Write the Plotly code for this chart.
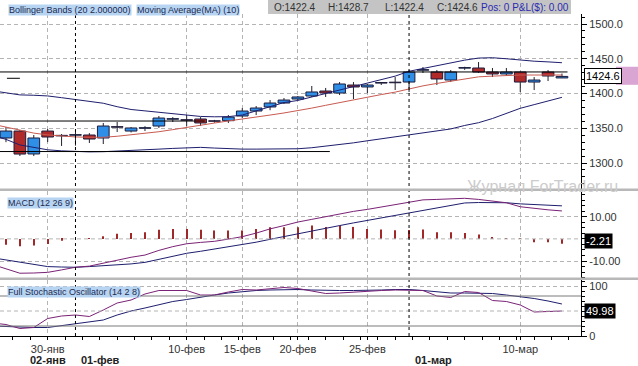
import plotly.graph_objects as go

# ---------------- data ----------------
bar_idx = list(range(41))
opens = [1336, 1346, 1313, 1346, 1339, 1340, 1340.3, 1336, 1352, 1346, 1350, 1353.2, 1363, 1362, 1363.3,
         1360.4, 1360.9, 1367.6, 1374.8, 1380.6, 1386.3, 1392.1, 1396.4, 1403.6, 1400.7, 1412.2, 1409.4,
         1415, 1416, 1416.5, 1433.5, 1430.9, 1419.4, 1436.5, 1436.7, 1430.9, 1428.1, 1430.9, 1416.5, 1430.9, 1422.4]
closes = [1346, 1312.9, 1336, 1337.4, 1339.5, 1340.5, 1334.5, 1353.2, 1351.5, 1350.4, 1350.5, 1364.7, 1363.5,
          1361.5, 1357.6, 1360, 1366, 1374.8, 1379.1, 1386.3, 1390.6, 1395, 1402.2, 1400.7, 1413.7, 1409.4,
          1412.2, 1415.5, 1415.5, 1430.9, 1434, 1420.9, 1430.9, 1437, 1430.9, 1428.1, 1430.9, 1416.5, 1419.4,
          1425.2, 1424.6]
highs = [1351.8, 1347.5, 1340.3, 1349, 1341.7, 1345, 1343, 1357.6, 1359, 1351.8, 1353, 1367.6, 1366, 1369,
         1366, 1362, 1369, 1379, 1382, 1390.6, 1393.5, 1396.4, 1410.8, 1408, 1416.5, 1416.5, 1413.7, 1416.5,
         1423.7, 1433.8, 1438.1, 1433.8, 1433.8, 1438.5, 1445.3, 1436.7, 1436.7, 1431.5, 1423.7, 1433.8, 1428.7]
lows = [1330, 1310.1, 1310, 1330.2, 1324.5, 1325, 1328.8, 1327.3, 1344.6, 1344, 1346, 1350.4, 1359, 1353,
        1353.2, 1358, 1357.6, 1364.7, 1369, 1376, 1385, 1390.6, 1395, 1395, 1397.8, 1392.1, 1400.7, 1412.2,
        1405, 1402.2, 1429.5, 1412.2, 1416.5, 1434, 1429.5, 1423.7, 1425.2, 1402.2, 1405, 1418, 1422.4]

ind_idx = list(range(-1, 41))
bb_upper = [1404, 1401, 1398, 1397.5, 1396.5, 1394, 1391.5, 1389, 1386, 1381, 1377, 1375, 1373, 1371, 1369,
            1367, 1366.5, 1366.7, 1369, 1375, 1381, 1387, 1390, 1395, 1400, 1405.5, 1411, 1415.5, 1420.5, 1425,
            1432, 1436, 1441, 1445, 1448, 1451, 1451.5, 1450, 1448, 1446.5, 1445.5, 1444.3]
bb_lower = [1340, 1334, 1326, 1322, 1319, 1317.5, 1316.3, 1316, 1316.3, 1317, 1318, 1319, 1320, 1321, 1322,
            1322.5, 1321.5, 1320.5, 1320, 1320, 1320, 1320, 1320.5, 1322, 1324, 1326, 1329, 1332, 1335, 1337.5,
            1340, 1343, 1346, 1349, 1354, 1358, 1364, 1371, 1378.7, 1384, 1389, 1394.5]
ma10 = [1356, 1352, 1347, 1343, 1340.5, 1338.5, 1337.5, 1337, 1337, 1338.5, 1340.5, 1342.5, 1345, 1348, 1351.5,
        1354.5, 1357.5, 1360.5, 1363, 1366, 1369, 1372, 1375, 1379, 1383, 1387, 1391.5, 1395, 1398.5, 1402,
        1407, 1411, 1414.5, 1418, 1421.5, 1424, 1425, 1426, 1426.6, 1426.6, 1426.6, 1426.6]
macd_line = [-11.5, -13.5, -15.5, -15.4, -15.1, -14.0, -12.8, -12.3, -11.0, -9.5, -8.3, -7.3, -5.2, -3.5, -2.2,
             -1.6, -1.1, -0.1, 1.0, 2.6, 4.5, 6.0, 7.6, 8.8, 10.0, 11.3, 12.4, 13.3, 14.4, 15.3, 16.3, 17.6,
             17.8, 18.1, 18.3, 17.8, 17.2, 16.3, 14.5, 13.7, 13.1, 12.6]
macd_signal = [-8.5, -9.5, -10.5, -11.5, -12.5, -12.7, -12.8, -12.5, -12.2, -11.8, -11.3, -10.6, -9.3, -7.9,
               -6.5, -5.6, -4.6, -3.7, -2.8, -1.5, -0.2, 1.1, 2.4, 3.6, 4.8, 6.0, 7.2, 8.3, 9.5, 10.6, 11.8,
               12.8, 14.0, 15.2, 16.2, 16.4, 16.5, 16.3, 15.8, 15.4, 15.1, 14.9]
macd_hist = [-2.6, -3.3, -3.0, -2.3, -0.9, 0.0, 0.3, 1.2, 2.3, 2.7, 3.0, 4.1, 4.5, 4.5, 4.1, 3.8, 3.8, 3.8,
             4.5, 5.3, 5.3, 5.3, 6.0, 5.4, 6.0, 5.4, 4.5, 4.2, 3.9, 4.0, 4.2, 3.0, 3.0, 2.7, 2.0, 0.8, 0.3,
             0.1, -1.5, -1.5, -2.21]
stoch_k = [26, 23, 15, 17, 35, 40, 42, 39, 52, 66, 72, 84, 91, 91, 91, 82, 82, 88, 93, 92, 95, 97, 95, 90, 85,
           86, 88, 89, 91, 92, 92, 91, 80, 77, 89, 87, 71, 69, 62, 48, 49, 49.98]
stoch_d = [20, 19, 17, 17, 17, 21, 25, 28, 32, 42, 50, 56, 63, 69, 73, 78, 82, 86, 89, 91, 92, 93, 93, 92, 91,
           91, 91, 91, 92, 93, 93, 91, 88, 86, 86, 86, 85, 82, 79, 75, 70, 64]

date_tick_idx = [3, 13, 17, 21, 26, 37]
date_tick_text = ["30-янв", "10-фев", "15-фев", "20-фев", "25-фев", "10-мар"]
month_line_idx = [5, 29]
month_label_idx = [3, 5, 29]
month_label_text = ["02-янв", "01-фев", "01-мар"]
price_ticks = [1300, 1350, 1400, 1450, 1500]
macd_ticks = [-10, 10]
stoch_ticks = [0, 100]
drawn_levels = [1431.0, 1360.4, 1316.5, 1421.9]
drawn_starts = [-0.43, -0.43, -0.43, 0.07]
drawn_ends = [40.4, 14.3, 23.3, 1.0]
last_o, last_h, last_l, last_c = 1422.4, 1428.7, 1422.4, 1424.6
macd_last = -2.21
stoch_last = 49.98

# ---------------- layout helpers ----------------
W, H = 638, 366
PW = 581  # plot area width in px


def py(px):
    return 1 - px / H


def pxx(px):
    return px / PW


FONT = "Liberation Sans, Arial, sans-serif"
NAVY = "#1e1e6e"
PURPLE = "#7a2276"
GRID = "#b4b4b4"

fig = go.Figure()

# candle wicks (upper and lower segments)
wx, wy = [], []
for i, o, h, l, c in zip(bar_idx, opens, highs, lows, closes):
    top, bot = max(o, c), min(o, c)
    wx += [i, i, None, i, i, None]
    wy += [top, h, None, l, bot, None]
fig.add_trace(go.Scatter(x=wx, y=wy, mode="lines", line=dict(color="#202030", width=1),
                         hoverinfo="skip", showlegend=False, xaxis="x", yaxis="y"))

# bollinger + MA
fig.add_trace(go.Scatter(x=ind_idx, y=bb_upper, mode="lines", line=dict(color=NAVY, width=1),
                         showlegend=False, xaxis="x", yaxis="y"))
fig.add_trace(go.Scatter(x=ind_idx, y=bb_lower, mode="lines", line=dict(color=NAVY, width=1),
                         showlegend=False, xaxis="x", yaxis="y"))
fig.add_trace(go.Scatter(x=ind_idx, y=ma10, mode="lines", line=dict(color="#c85a50", width=1),
                         showlegend=False, xaxis="x", yaxis="y"))

# candle bodies
body_base = [min(o, c) for o, c in zip(opens, closes)]
body_h = [max(abs(c - o), 0.8) for o, c in zip(opens, closes)]
body_col = ["#2f8fe6" if c > o else "#b02a2a" for o, c in zip(opens, closes)]
fig.add_trace(go.Bar(x=bar_idx, y=body_h, base=body_base, width=0.84,
                     marker=dict(color=body_col, line=dict(color="#1c1c3c", width=1)),
                     showlegend=False, xaxis="x", yaxis="y"))

# MACD
fig.add_trace(go.Bar(x=bar_idx, y=macd_hist, width=0.08,
                     marker=dict(color="#a02828", line=dict(width=0)),
                     showlegend=False, xaxis="x", yaxis="y2"))
fig.add_trace(go.Scatter(x=ind_idx, y=macd_signal, mode="lines", line=dict(color=NAVY, width=1),
                         showlegend=False, xaxis="x", yaxis="y2"))
fig.add_trace(go.Scatter(x=ind_idx, y=macd_line, mode="lines", line=dict(color=PURPLE, width=1),
                         showlegend=False, xaxis="x", yaxis="y2"))

# Stochastic
fig.add_trace(go.Scatter(x=ind_idx, y=stoch_d, mode="lines", line=dict(color=NAVY, width=1),
                         showlegend=False, xaxis="x", yaxis="y3"))
fig.add_trace(go.Scatter(x=ind_idx, y=stoch_k, mode="lines", line=dict(color=PURPLE, width=1),
                         showlegend=False, xaxis="x", yaxis="y3"))

tickfont = dict(family=FONT, size=11, color="#333333")
common_y = dict(side="right", showline=True, linecolor="#000000", linewidth=1, ticks="outside",
                ticklen=5, tickcolor="#000000", tickfont=tickfont, zeroline=False, automargin=False,
                gridcolor=GRID, griddash="4px,3px", gridwidth=1)

fig.update_layout(
    template="none",
    width=W, height=H, autosize=False,
    margin=dict(l=0, r=W - PW, t=0, b=0, pad=0),
    paper_bgcolor="white", plot_bgcolor="white",
    barmode="overlay", showlegend=False,
    font=dict(family=FONT),
    xaxis=dict(range=[-0.43, 41.37], domain=[0, 1], anchor="y3", automargin=False,
               tickmode="array", tickvals=date_tick_idx, ticktext=date_tick_text,
               ticks="outside", ticklen=3, tickcolor="#000000", tickfont=tickfont,
               showline=True, linecolor="#000000", linewidth=1,
               showgrid=True, gridcolor=GRID, griddash="4px,3px", gridwidth=1, zeroline=False,
               minor=dict(ticks="outside", ticklen=3, tickcolor="#000000", dtick=1.25, tick0=0.5,
                          showgrid=False)),
    yaxis=dict(domain=[py(189), py(14)], range=[1262.6, 1514.4],
               tickmode="array", tickvals=price_ticks, ticktext=[f"{v:.1f}" for v in price_ticks],
               minor=dict(ticks="outside", ticklen=3, tickcolor="#000000", dtick=10, showgrid=False),
               **common_y),
    yaxis2=dict(domain=[py(278), py(191)], range=[-17.65, 21.6], anchor="x",
                tickmode="array", tickvals=macd_ticks, ticktext=[f"{v:.2f}" for v in macd_ticks],
                minor=dict(ticks="outside", ticklen=3, tickcolor="#000000", dtick=2.5, showgrid=False),
                **common_y),
    yaxis3=dict(domain=[py(336), py(280)], range=[0, 112], anchor="x",
                tickmode="array", tickvals=stoch_ticks, ticktext=[str(v) for v in stoch_ticks],
                minor=dict(ticks="outside", ticklen=3, tickcolor="#000000", dtick=10, showgrid=False),
                **common_y),
)

shapes = []
# MACD zero gridline (label hidden behind the value box in the reference)
shapes.append(dict(type="line", xref="paper", yref="y2", x0=0, x1=1, y0=0, y1=0,
                   line=dict(color=GRID, width=1, dash="4px,3px")))
# drawn horizontal levels on price chart
for lvl, x0, x1 in zip(drawn_levels, drawn_starts, drawn_ends):
    shapes.append(dict(type="line", xref="x", yref="y", x0=x0, x1=x1, y0=lvl, y1=lvl,
                       line=dict(color="#000000", width=1)))
# stochastic 20/80 levels
for lvl in (20, 80):
    shapes.append(dict(type="line", xref="paper", yref="y3", x0=0, x1=1, y0=lvl, y1=lvl,
                       line=dict(color="#7a7a7a", width=1)))
shapes.append(dict(type="line", xref="paper", yref="y3", x0=0, x1=1, y0=50, y1=50,
                   line=dict(color=GRID, width=1, dash="4px,3px")))
# month separators
for m in month_line_idx:
    shapes.append(dict(type="line", xref="x", yref="paper", x0=m, x1=m, y0=py(336), y1=py(13),
                       line=dict(color="#000000", width=1, dash="3px,3px")))
# panel separators
for top in (188.5, 277.5):
    shapes.append(dict(type="rect", xref="paper", yref="paper", x0=0, x1=W / PW,
                       y0=py(top + 2.5), y1=py(top), fillcolor="#b8b8b8", line=dict(width=0)))
# header OHLC box
shapes.append(dict(type="rect", xref="paper", yref="paper", x0=pxx(268), x1=pxx(571),
                   y0=py(14), y1=py(0), fillcolor="#c4c4c4", line=dict(width=0)))
# last price pink strip
shapes.append(dict(type="rect", xref="paper", yref="y", x0=pxx(616), x1=W / PW,
                   y0=1412.5, y1=1438.5, fillcolor="#d9a6d4", line=dict(width=0)))
fig.update_layout(shapes=shapes)

ann = []
# header legend labels
for txt, x0 in (("Bollinger Bands (20 2.000000)", 8), ("Moving Average(MA) (10)", 136)):
    ann.append(dict(text=txt, xref="paper", yref="paper", x=pxx(x0), y=py(10.5), xanchor="left",
                    yanchor="middle", showarrow=False, bgcolor="#b7d5f3", borderpad=0,
                    font=dict(family=FONT, size=9, color="#1e2a50")))
hdr = [(f"O:{last_o}", 272, "#333333"), (f"H:{last_h}", 326, "#333333"), (f"L:{last_l}", 383, "#333333"),
       (f"C:{last_c}", 435, "#333333"), ("Pos: 0 P&L($): 0.00", 479, "#2a2ab0")]
for txt, x0, col in hdr:
    ann.append(dict(text=txt, xref="paper", yref="paper", x=pxx(x0), y=py(7), xanchor="left",
                    yanchor="middle", showarrow=False, font=dict(family=FONT, size=10, color=col)))
ann.append(dict(text="MACD (12 26 9)", xref="paper", yref="paper", x=pxx(7), y=py(203), xanchor="left",
                yanchor="middle", showarrow=False, bgcolor="#b7d5f3", borderpad=0,
                font=dict(family=FONT, size=9, color="#1e2a50")))
ann.append(dict(text="Full Stochastic Oscillator (14 2 8)", xref="paper", yref="paper", x=pxx(7),
                y=py(292), xanchor="left", yanchor="middle", showarrow=False, bgcolor="#b7d5f3",
                borderpad=0, font=dict(family=FONT, size=9, color="#1e2a50")))
# watermark
ann.append(dict(text="Журнал ForTrader.ru", xref="paper", yref="paper", x=pxx(542), y=py(186),
                xanchor="center", yanchor="middle", showarrow=False,
                font=dict(family=FONT, size=16, color="#cccccc")))
# current value boxes
ann.append(dict(text=f"{last_c}", xref="paper", yref="y", x=pxx(584), y=last_c, xanchor="left",
                yanchor="middle", showarrow=False, bgcolor="#ffffff", bordercolor="#000000",
                borderwidth=1, borderpad=1, font=dict(family=FONT, size=11, color="#000000")))
ann.append(dict(text=f"{macd_last}", xref="paper", yref="y2", x=pxx(584), y=macd_last, yshift=3,
                xanchor="left", yanchor="middle", showarrow=False, bgcolor="#000000", borderpad=1,
                font=dict(family=FONT, size=11, color="#ffffff")))
ann.append(dict(text=f"{stoch_last}", xref="paper", yref="y3", x=pxx(584), y=stoch_last,
                xanchor="left", yanchor="middle", showarrow=False, bgcolor="#000000", borderpad=1,
                font=dict(family=FONT, size=11, color="#ffffff")))
# bold month labels (second row)
for i, (m, t) in enumerate(zip(month_label_idx, month_label_text)):
    ann.append(dict(text=f"<b>{t}</b>", xref="x", yref="paper", x=m, y=py(360),
                    xanchor="center" if i == 0 else "left", xshift=0 if i == 0 else 4,
                    yanchor="middle", showarrow=False, font=dict(family=FONT, size=11, color="#222222")))
fig.update_layout(annotations=ann)

fig.write_html("out.html", config={"displayModeBar": False, "responsive": False},
               post_script="document.body.style.margin='0px';document.body.style.overflow='hidden';")
